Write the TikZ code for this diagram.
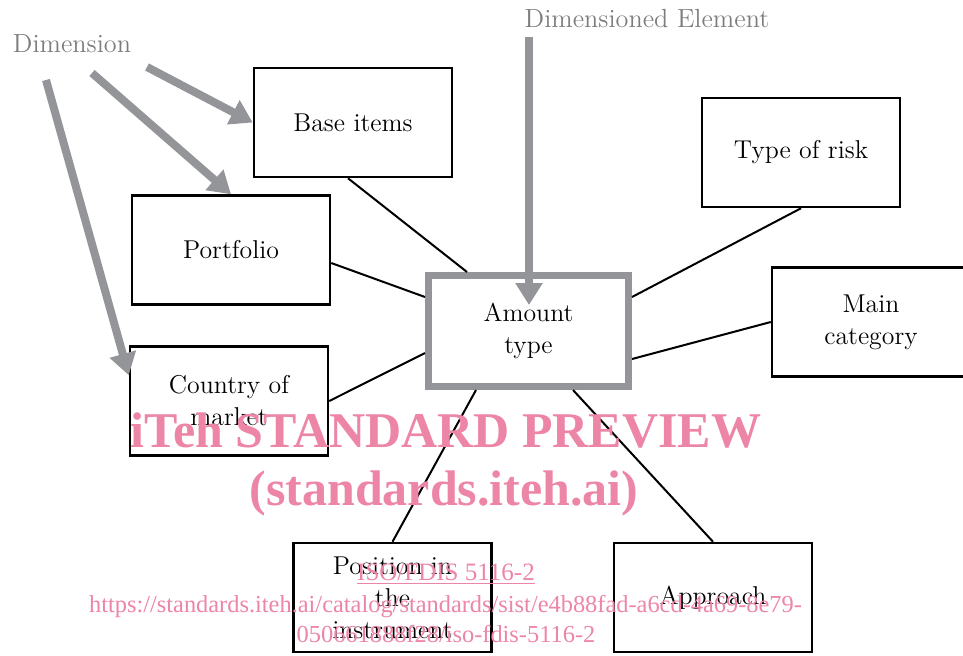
\documentclass[tikz,border=0pt]{standalone}
\usepackage{fontspec}
\usetikzlibrary{arrows.meta,calc}
\newfontfamily\wmfont{Liberation Serif}
\definecolor{dimgray}{RGB}{148,149,153}
\definecolor{labelgray}{RGB}{125,125,128}
\definecolor{wmpink}{RGB}{237,133,166}
\tikzset{
  box/.style={draw,line width=1.25pt,fill=white,minimum width=99pt,minimum height=54.5pt,
    align=center,font=\fontsize{12.9}{16}\selectfont},
  keybox/.style={box,draw=dimgray,line width=3.5pt,minimum width=100pt,minimum height=55.5pt},
  link/.style={line width=1pt},
  dimarrow/.style={draw=dimgray,line width=4pt,-{Triangle[length=11pt,width=13pt]}},
  dimlabel/.style={text=labelgray,font=\fontsize{13.1}{16}\selectfont},
  wmark/.style={text=wmpink,anchor=base}
}

\begin{document}
\begin{tikzpicture}[x=0.5pt,y=-0.5pt]
  \useasboundingbox (0,0) rectangle (963,655);

  % boxes
  \node[keybox] (amount) at (528.5,331) {Amount\\type};
  \node[box] (base) at (353,122.5) {Base items};
  \node[box] (portfolio) at (231,250) {Portfolio};
  \node[box] (country) at (229,401) {Country of\\market};
  \node[box] (risk) at (801,152.5) {Type of risk};
  \node[box] (main) at (871,322) {Main\\category};
  \node[box] (position) at (392.5,597.5) {Position in\\the\\instrument};
  \node[box] (approach) at (713,597.5) {Approach};

  % links to the amount type
  \draw[link] ($(base.south)+(-5,0)$) -- ($(amount.north)+(-61.5,0)$);
  \draw[link] ($(portfolio.east)+(0,13)$) -- ($(amount.west)+(0,-34)$);
  \draw[link] (country.east) -- ($(amount.west)+(0,22)$);
  \draw[link] (risk.south) -- ($(amount.east)+(0,-34)$);
  \draw[link] (main.west) -- ($(amount.east)+(0,28)$);
  \draw[link] (position.north) -- ($(amount.south)+(-52.5,0)$);
  \draw[link] (approach.north) -- ($(amount.south)+(44.5,0)$);

  % labels and gray arrows
  \node[dimlabel] (dim) at (72,44) {Dimension};
  \node[dimlabel] (elem) at (647,19) {Dimensioned Element};
  \coordinate (d1) at (147,67);
  \coordinate (d2) at (92,73);
  \coordinate (d3) at (46,80);
  \coordinate (e1) at (529,37);
  \draw[dimarrow] (d1) -- (base.west);
  \draw[dimarrow] (d2) -- (portfolio.north);
  \draw[dimarrow] (d3) -- ($(country.north west)+(0,30)$);
  \draw[dimarrow] (e1) -- ($(amount.north)+(0.5,33)$);

  % watermark
  \node[wmark,font=\wmfont\bfseries\fontsize{25}{30}\selectfont] (wm1) at (446,447) {iTeh STANDARD PREVIEW};
  \node[wmark,font=\wmfont\bfseries\fontsize{25}{30}\selectfont] (wm2) at (444,505) {(standards.iteh.ai)};
  \node[wmark,font=\wmfont\fontsize{12.5}{15}\selectfont] (wm3) at (446,580) {\underline{ISO/FDIS 5116-2}};
  \node[wmark,font=\wmfont\fontsize{12.2}{14}\selectfont] (wm4) at (445.5,612) {https://standards.iteh.ai/catalog/standards/sist/e4b88fad-a6cd-4a69-8e79-};
  \node[wmark,font=\wmfont\fontsize{12.2}{14}\selectfont] (wm5) at (446,642) {050661888f28/iso-fdis-5116-2};
\end{tikzpicture}
\end{document}
